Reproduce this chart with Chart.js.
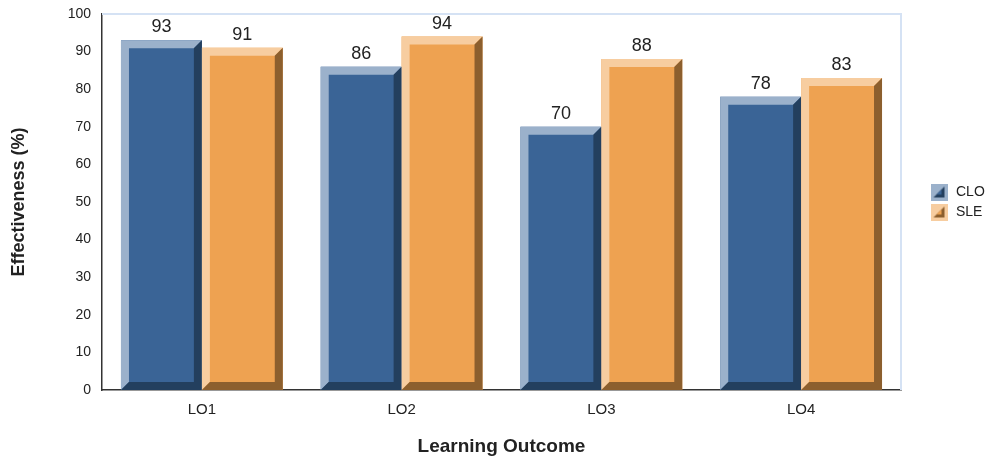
<!DOCTYPE html>
<html>
<head>
<meta charset="utf-8">
<script src="https://cdn.jsdelivr.net/npm/chart.js@4.4.1/dist/chart.umd.min.js"></script>
<style>
  html, body { margin: 0; padding: 0; background: #ffffff; }
  #wrap { width: 993px; height: 459px; }
</style>
</head>
<body>
<div id="wrap"><canvas id="c" width="993" height="459"></canvas></div>
<script>
const categories = ["LO1", "LO2", "LO3", "LO4"];
const seriesNames = ["CLO", "SLE"];
const cloValues = [93, 86, 70, 78];
const sleValues = [91, 94, 88, 83];
const yTicks = [0, 10, 20, 30, 40, 50, 60, 70, 80, 90, 100];

const palette = {
  CLO: { face: "#3a6496", light: "#9bb1cb", dark: "#233f5e" },
  SLE: { face: "#eea251", light: "#f7cda0", dark: "#8c5f2e" }
};
const FONT = "'Liberation Sans', Arial, Helvetica, sans-serif";

function makeIcon(p) {
  const s = 17;
  const cv = document.createElement("canvas");
  cv.width = s; cv.height = s;
  const g = cv.getContext("2d");
  g.fillStyle = p.light; g.fillRect(0, 0, s, s);
  g.fillStyle = p.dark;
  g.beginPath(); g.moveTo(14, 3); g.lineTo(14, 14); g.lineTo(3, 14); g.closePath(); g.fill();
  g.fillStyle = p.face;
  g.beginPath(); g.moveTo(11, 6); g.lineTo(11, 11); g.lineTo(6, 11); g.closePath(); g.fill();
  return cv;
}

const bevelPlugin = {
  id: "bevel",
  beforeDatasetsDraw(chart) {
    const { ctx, chartArea: a } = chart;
    ctx.save();
    ctx.strokeStyle = "#d5e2f4";
    ctx.lineWidth = 2;
    ctx.beginPath();
    ctx.moveTo(a.left, a.top);
    ctx.lineTo(a.right, a.top);
    ctx.lineTo(a.right, a.bottom);
    ctx.stroke();
    ctx.restore();
  },
  afterDatasetsDraw(chart) {
    const { ctx } = chart;
    const b = 8;
    chart.data.datasets.forEach((ds, di) => {
      const p = palette[ds.label];
      const meta = chart.getDatasetMeta(di);
      meta.data.forEach((el, i) => {
        const props = el.getProps(["x", "y", "base", "width"], true);
        const x0 = props.x - props.width / 2, x1 = props.x + props.width / 2;
        const y0 = props.y, y1 = props.base;
        ctx.save();
        ctx.fillStyle = p.light;
        ctx.beginPath();
        ctx.moveTo(x0, y1); ctx.lineTo(x0, y0); ctx.lineTo(x1, y0);
        ctx.lineTo(x1 - b, y0 + b); ctx.lineTo(x0 + b, y0 + b); ctx.lineTo(x0 + b, y1 - b);
        ctx.closePath(); ctx.fill();
        ctx.fillStyle = p.dark;
        ctx.beginPath();
        ctx.moveTo(x1, y0); ctx.lineTo(x1, y1); ctx.lineTo(x0, y1);
        ctx.lineTo(x0 + b, y1 - b); ctx.lineTo(x1 - b, y1 - b); ctx.lineTo(x1 - b, y0 + b);
        ctx.closePath(); ctx.fill();
        ctx.fillStyle = "#222222";
        ctx.font = "18px " + FONT;
        ctx.textAlign = "center";
        ctx.textBaseline = "bottom";
        ctx.fillText(String(ds.data[i]), props.x, y0 - 4);
        ctx.restore();
      });
    });
  }
};

new Chart(document.getElementById("c"), {
  type: "bar",
  data: {
    labels: categories,
    datasets: [
      { label: seriesNames[0], data: cloValues, backgroundColor: palette.CLO.face, borderWidth: 0,
        categoryPercentage: 0.81, barPercentage: 1.0, pointStyle: makeIcon(palette.CLO) },
      { label: seriesNames[1], data: sleValues, backgroundColor: palette.SLE.face, borderWidth: 0,
        categoryPercentage: 0.81, barPercentage: 1.0, pointStyle: makeIcon(palette.SLE) }
    ]
  },
  options: {
    responsive: false,
    animation: false,
    devicePixelRatio: 1,
    layout: { padding: { top: 14, left: 5, right: 0, bottom: 0 } },
    plugins: {
      tooltip: { enabled: false },
      legend: {
        position: "right",
        align: "center",
        fullSize: false,
        maxWidth: 70,
        labels: {
          usePointStyle: true,
          pointStyleWidth: 20,
          padding: 6,
          color: "#222222",
          font: { family: FONT, size: 14 }
        }
      }
    },
    scales: {
      x: {
        grid: { display: false, drawTicks: false },
        border: { display: true, color: "#333333", width: 1.5 },
        ticks: { color: "#222222", padding: 11, font: { family: FONT, size: 15 } },
        title: { display: true, text: "Learning Outcome", color: "#222222",
                 font: { family: FONT, size: 19, weight: "bold" }, padding: { top: 18, bottom: 1 } },
        afterFit(s) { s.height = 69; }
      },
      y: {
        min: 0, max: 100,
        grid: { display: false, drawTicks: false },
        border: { display: true, color: "#333333", width: 1.5 },
        afterBuildTicks(s) { s.ticks = yTicks.map(v => ({ value: v })); },
        ticks: { color: "#222222", padding: 11, font: { family: FONT, size: 14 } },
        title: { display: true, text: "Effectiveness (%)", color: "#222222",
                 font: { family: FONT, size: 18, weight: "bold" }, padding: { top: 3, bottom: 4 } },
        afterFit(s) { s.width = 97; s.paddingTop = 0; s.paddingBottom = 0; }
      },
      yPad: {
        position: "right",
        display: true,
        grid: { display: false, drawTicks: false },
        border: { display: false },
        ticks: { display: false },
        afterFit(s) { s.width = 22; s.paddingTop = 0; s.paddingBottom = 0; }
      }
    }
  },
  plugins: [bevelPlugin]
});
</script>
</body>
</html>
